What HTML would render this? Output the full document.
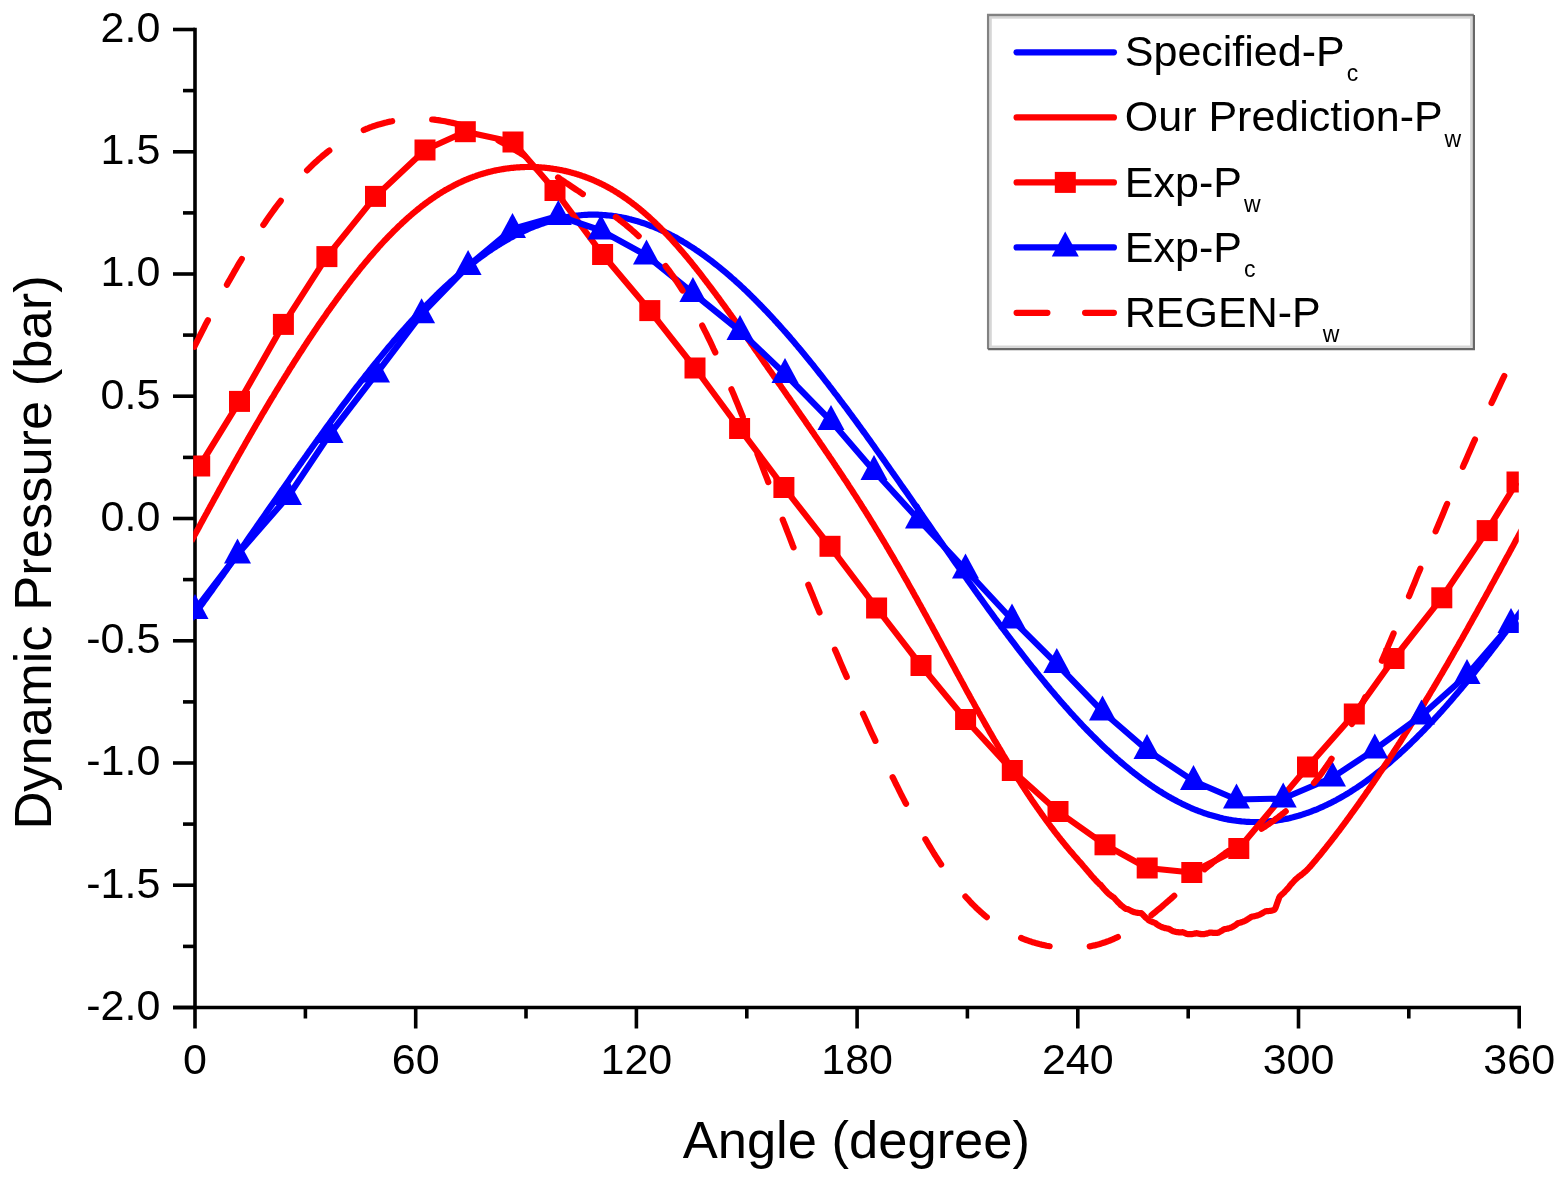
<!DOCTYPE html>
<html><head><meta charset="utf-8"><title>Dynamic Pressure vs Angle</title>
<style>html,body{margin:0;padding:0;background:#fff;overflow:hidden}svg{display:block}</style></head>
<body>
<svg width="1563" height="1181" viewBox="0 0 1563 1181">
<rect width="1563" height="1181" fill="#fff"/>
<defs><clipPath id="pc"><rect x="193.2" y="27.5" width="1325.6" height="980.0"/></clipPath></defs>
<g stroke="#000" stroke-width="3.6" fill="none" stroke-linecap="butt">
<path d="M195.0,27.7 L195.0,1007.5 M173.0,1007.5 L1521.0,1007.5"/>
<path d="M173.0,1007.5 L195.0,1007.5"/>
<path d="M183.0,946.4 L195.0,946.4"/>
<path d="M173.0,885.2 L195.0,885.2"/>
<path d="M183.0,824.1 L195.0,824.1"/>
<path d="M173.0,763.0 L195.0,763.0"/>
<path d="M183.0,701.9 L195.0,701.9"/>
<path d="M173.0,640.8 L195.0,640.8"/>
<path d="M183.0,579.6 L195.0,579.6"/>
<path d="M173.0,518.5 L195.0,518.5"/>
<path d="M183.0,457.4 L195.0,457.4"/>
<path d="M173.0,396.2 L195.0,396.2"/>
<path d="M183.0,335.1 L195.0,335.1"/>
<path d="M173.0,274.0 L195.0,274.0"/>
<path d="M183.0,212.9 L195.0,212.9"/>
<path d="M173.0,151.8 L195.0,151.8"/>
<path d="M183.0,90.6 L195.0,90.6"/>
<path d="M173.0,29.5 L195.0,29.5"/>
<path d="M195.0,1007.5 L195.0,1028.5"/>
<path d="M305.4,1007.5 L305.4,1018.5"/>
<path d="M415.7,1007.5 L415.7,1028.5"/>
<path d="M526.0,1007.5 L526.0,1018.5"/>
<path d="M636.4,1007.5 L636.4,1028.5"/>
<path d="M746.8,1007.5 L746.8,1018.5"/>
<path d="M857.1,1007.5 L857.1,1028.5"/>
<path d="M967.4,1007.5 L967.4,1018.5"/>
<path d="M1077.8,1007.5 L1077.8,1028.5"/>
<path d="M1188.2,1007.5 L1188.2,1018.5"/>
<path d="M1298.5,1007.5 L1298.5,1028.5"/>
<path d="M1408.8,1007.5 L1408.8,1018.5"/>
<path d="M1519.2,1007.5 L1519.2,1028.5"/>
</g>
<g clip-path="url(#pc)" fill="none" stroke-linejoin="round">
<path d="M191.3,618.8 L193.2,616.3 L195.0,613.8 L196.8,611.3 L198.7,608.8 L200.5,606.2 L202.4,603.7 L204.2,601.1 L206.0,598.6 L207.9,596.0 L209.7,593.5 L211.6,590.9 L213.4,588.3 L215.2,585.7 L217.1,583.2 L218.9,580.6 L220.7,578.0 L222.6,575.4 L224.4,572.8 L226.3,570.1 L228.1,567.5 L229.9,564.9 L231.8,562.3 L233.6,559.7 L235.5,557.0 L237.3,554.4 L239.1,551.8 L241.0,549.1 L242.8,546.5 L244.7,543.9 L246.5,541.2 L248.3,538.6 L250.2,535.9 L252.0,533.3 L253.9,530.6 L255.7,528.0 L257.5,525.3 L259.4,522.7 L261.2,520.0 L263.0,517.4 L264.9,514.7 L266.7,512.1 L268.6,509.4 L270.4,506.8 L272.2,504.2 L274.1,501.5 L275.9,498.9 L277.8,496.2 L279.6,493.6 L281.4,490.9 L283.3,488.3 L285.1,485.7 L287.0,483.0 L288.8,480.4 L290.6,477.8 L292.5,475.1 L294.3,472.5 L296.2,469.9 L298.0,467.3 L299.8,464.7 L301.7,462.1 L303.5,459.5 L305.4,456.9 L307.2,454.3 L309.0,451.7 L310.9,449.1 L312.7,446.5 L314.5,444.0 L316.4,441.4 L318.2,438.8 L320.1,436.3 L321.9,433.7 L323.7,431.2 L325.6,428.6 L327.4,426.1 L329.3,423.6 L331.1,421.1 L332.9,418.6 L334.8,416.1 L336.6,413.6 L338.5,411.1 L340.3,408.6 L342.1,406.2 L344.0,403.7 L345.8,401.3 L347.7,398.8 L349.5,396.4 L351.3,394.0 L353.2,391.5 L355.0,389.1 L356.8,386.7 L358.7,384.4 L360.5,382.0 L362.4,379.6 L364.2,377.3 L366.0,374.9 L367.9,372.6 L369.7,370.3 L371.6,368.0 L373.4,365.7 L375.2,363.4 L377.1,361.1 L378.9,358.9 L380.8,356.6 L382.6,354.4 L384.4,352.2 L386.3,349.9 L388.1,347.7 L390.0,345.6 L391.8,343.4 L393.6,341.2 L395.5,339.1 L397.3,336.9 L399.1,334.8 L401.0,332.7 L402.8,330.6 L404.7,328.6 L406.5,326.5 L408.3,324.4 L410.2,322.4 L412.0,320.4 L413.9,318.4 L415.7,316.4 L417.5,314.4 L419.4,312.5 L421.2,310.5 L423.1,308.6 L424.9,306.7 L426.7,304.8 L428.6,302.9 L430.4,301.1 L432.3,299.2 L434.1,297.4 L435.9,295.6 L437.8,293.8 L439.6,292.0 L441.4,290.3 L443.3,288.5 L445.1,286.8 L447.0,285.1 L448.8,283.4 L450.6,281.7 L452.5,280.1 L454.3,278.5 L456.2,276.8 L458.0,275.2 L459.8,273.7 L461.7,272.1 L463.5,270.6 L465.4,269.0 L467.2,267.5 L469.0,266.0 L470.9,264.6 L472.7,263.1 L474.6,261.7 L476.4,260.3 L478.2,258.9 L480.1,257.5 L481.9,256.2 L483.7,254.9 L485.6,253.6 L487.4,252.3 L489.3,251.0 L491.1,249.8 L492.9,248.5 L494.8,247.3 L496.6,246.1 L498.5,245.0 L500.3,243.8 L502.1,242.7 L504.0,241.6 L505.8,240.5 L507.7,239.5 L509.5,238.4 L511.3,237.4 L513.2,236.4 L515.0,235.4 L516.9,234.5 L518.7,233.6 L520.5,232.6 L522.4,231.8 L524.2,230.9 L526.0,230.1 L527.9,229.2 L529.7,228.4 L531.6,227.7 L533.4,226.9 L535.2,226.2 L537.1,225.5 L538.9,224.8 L540.8,224.1 L542.6,223.5 L544.4,222.8 L546.3,222.2 L548.1,221.7 L550.0,221.1 L551.8,220.6 L553.6,220.1 L555.5,219.6 L557.3,219.1 L559.2,218.7 L561.0,218.3 L562.8,217.9 L564.7,217.5 L566.5,217.1 L568.4,216.8 L570.2,216.5 L572.0,216.2 L573.9,216.0 L575.7,215.7 L577.5,215.5 L579.4,215.3 L581.2,215.2 L583.1,215.0 L584.9,214.9 L586.7,214.8 L588.6,214.7 L590.4,214.7 L592.3,214.7 L594.1,214.7 L595.9,214.7 L597.8,214.7 L599.6,214.8 L601.5,214.9 L603.3,215.0 L605.1,215.1 L607.0,215.3 L608.8,215.5 L610.7,215.7 L612.5,215.9 L614.3,216.2 L616.2,216.4 L618.0,216.7 L619.8,217.0 L621.7,217.4 L623.5,217.7 L625.4,218.1 L627.2,218.5 L629.0,219.0 L630.9,219.4 L632.7,219.9 L634.6,220.4 L636.4,220.9 L638.2,221.5 L640.1,222.1 L641.9,222.7 L643.8,223.3 L645.6,223.9 L647.4,224.6 L649.3,225.3 L651.1,226.0 L653.0,226.7 L654.8,227.4 L656.6,228.2 L658.5,229.0 L660.3,229.8 L662.1,230.7 L664.0,231.5 L665.8,232.4 L667.7,233.3 L669.5,234.2 L671.3,235.2 L673.2,236.1 L675.0,237.1 L676.9,238.1 L678.7,239.2 L680.5,240.2 L682.4,241.3 L684.2,242.4 L686.1,243.5 L687.9,244.7 L689.7,245.8 L691.6,247.0 L693.4,248.2 L695.3,249.4 L697.1,250.7 L698.9,251.9 L700.8,253.2 L702.6,254.5 L704.4,255.8 L706.3,257.2 L708.1,258.5 L710.0,259.9 L711.8,261.3 L713.6,262.7 L715.5,264.2 L717.3,265.6 L719.2,267.1 L721.0,268.6 L722.8,270.1 L724.7,271.7 L726.5,273.2 L728.4,274.8 L730.2,276.4 L732.0,278.0 L733.9,279.6 L735.7,281.3 L737.6,282.9 L739.4,284.6 L741.2,286.3 L743.1,288.0 L744.9,289.8 L746.8,291.5 L748.6,293.3 L750.4,295.1 L752.3,296.9 L754.1,298.7 L755.9,300.6 L757.8,302.4 L759.6,304.3 L761.5,306.2 L763.3,308.1 L765.1,310.0 L767.0,311.9 L768.8,313.9 L770.7,315.9 L772.5,317.8 L774.3,319.8 L776.2,321.8 L778.0,323.9 L779.9,325.9 L781.7,328.0 L783.5,330.0 L785.4,332.1 L787.2,334.2 L789.1,336.3 L790.9,338.5 L792.7,340.6 L794.6,342.8 L796.4,344.9 L798.2,347.1 L800.1,349.3 L801.9,351.5 L803.8,353.8 L805.6,356.0 L807.4,358.2 L809.3,360.5 L811.1,362.8 L813.0,365.0 L814.8,367.3 L816.6,369.6 L818.5,372.0 L820.3,374.3 L822.2,376.6 L824.0,379.0 L825.8,381.3 L827.7,383.7 L829.5,386.1 L831.4,388.5 L833.2,390.9 L835.0,393.3 L836.9,395.7 L838.7,398.1 L840.5,400.6 L842.4,403.0 L844.2,405.5 L846.1,407.9 L847.9,410.4 L849.7,412.9 L851.6,415.4 L853.4,417.9 L855.3,420.4 L857.1,422.9 L858.9,425.4 L860.8,427.9 L862.6,430.5 L864.5,433.0 L866.3,435.6 L868.1,438.1 L870.0,440.7 L871.8,443.2 L873.7,445.8 L875.5,448.4 L877.3,451.0 L879.2,453.6 L881.0,456.1 L882.8,458.7 L884.7,461.3 L886.5,463.9 L888.4,466.6 L890.2,469.2 L892.0,471.8 L893.9,474.4 L895.7,477.0 L897.6,479.7 L899.4,482.3 L901.2,484.9 L903.1,487.6 L904.9,490.2 L906.8,492.8 L908.6,495.5 L910.4,498.1 L912.3,500.8 L914.1,503.4 L916.0,506.1 L917.8,508.7 L919.6,511.4 L921.5,514.0 L923.3,516.7 L925.1,519.3 L927.0,522.0 L928.8,524.6 L930.7,527.3 L932.5,529.9 L934.3,532.6 L936.2,535.2 L938.0,537.8 L939.9,540.5 L941.7,543.1 L943.5,545.8 L945.4,548.4 L947.2,551.0 L949.1,553.7 L950.9,556.3 L952.7,558.9 L954.6,561.6 L956.4,564.2 L958.3,566.8 L960.1,569.4 L961.9,572.0 L963.8,574.6 L965.6,577.2 L967.4,579.8 L969.3,582.4 L971.1,585.0 L973.0,587.6 L974.8,590.2 L976.6,592.7 L978.5,595.3 L980.3,597.9 L982.2,600.4 L984.0,603.0 L985.8,605.5 L987.7,608.1 L989.5,610.6 L991.4,613.1 L993.2,615.6 L995.0,618.1 L996.9,620.6 L998.7,623.1 L1000.6,625.6 L1002.4,628.1 L1004.2,630.5 L1006.1,633.0 L1007.9,635.5 L1009.8,637.9 L1011.6,640.3 L1013.4,642.7 L1015.3,645.2 L1017.1,647.6 L1018.9,650.0 L1020.8,652.3 L1022.6,654.7 L1024.5,657.1 L1026.3,659.4 L1028.1,661.8 L1030.0,664.1 L1031.8,666.4 L1033.7,668.7 L1035.5,671.0 L1037.3,673.3 L1039.2,675.6 L1041.0,677.8 L1042.9,680.1 L1044.7,682.3 L1046.5,684.6 L1048.4,686.8 L1050.2,689.0 L1052.1,691.2 L1053.9,693.3 L1055.7,695.5 L1057.6,697.6 L1059.4,699.8 L1061.2,701.9 L1063.1,704.0 L1064.9,706.1 L1066.8,708.2 L1068.6,710.2 L1070.4,712.3 L1072.3,714.3 L1074.1,716.3 L1076.0,718.3 L1077.8,720.3 L1079.6,722.3 L1081.5,724.2 L1083.3,726.2 L1085.2,728.1 L1087.0,730.0 L1088.8,731.9 L1090.7,733.8 L1092.5,735.6 L1094.4,737.5 L1096.2,739.3 L1098.0,741.1 L1099.9,742.9 L1101.7,744.7 L1103.5,746.4 L1105.4,748.2 L1107.2,749.9 L1109.1,751.6 L1110.9,753.3 L1112.7,755.0 L1114.6,756.6 L1116.4,758.3 L1118.3,759.9 L1120.1,761.5 L1121.9,763.0 L1123.8,764.6 L1125.6,766.1 L1127.5,767.7 L1129.3,769.2 L1131.1,770.7 L1133.0,772.1 L1134.8,773.6 L1136.7,775.0 L1138.5,776.4 L1140.3,777.8 L1142.2,779.2 L1144.0,780.5 L1145.8,781.8 L1147.7,783.1 L1149.5,784.4 L1151.4,785.7 L1153.2,786.9 L1155.0,788.2 L1156.9,789.4 L1158.7,790.6 L1160.6,791.7 L1162.4,792.9 L1164.2,794.0 L1166.1,795.1 L1167.9,796.2 L1169.8,797.2 L1171.6,798.3 L1173.4,799.3 L1175.3,800.3 L1177.1,801.3 L1179.0,802.2 L1180.8,803.1 L1182.6,804.1 L1184.5,804.9 L1186.3,805.8 L1188.2,806.7 L1190.0,807.5 L1191.8,808.3 L1193.7,809.1 L1195.5,809.8 L1197.3,810.5 L1199.2,811.3 L1201.0,811.9 L1202.9,812.6 L1204.7,813.3 L1206.5,813.9 L1208.4,814.5 L1210.2,815.1 L1212.1,815.6 L1213.9,816.1 L1215.7,816.6 L1217.6,817.1 L1219.4,817.6 L1221.3,818.0 L1223.1,818.5 L1224.9,818.9 L1226.8,819.2 L1228.6,819.6 L1230.5,819.9 L1232.3,820.2 L1234.1,820.5 L1236.0,820.7 L1237.8,821.0 L1239.6,821.2 L1241.5,821.4 L1243.3,821.5 L1245.2,821.7 L1247.0,821.8 L1248.8,821.9 L1250.7,822.0 L1252.5,822.0 L1254.4,822.0 L1256.2,822.0 L1258.0,822.0 L1259.9,822.0 L1261.7,821.9 L1263.6,821.8 L1265.4,821.7 L1267.2,821.6 L1269.1,821.4 L1270.9,821.2 L1272.8,821.0 L1274.6,820.8 L1276.4,820.6 L1278.3,820.3 L1280.1,820.0 L1281.9,819.7 L1283.8,819.3 L1285.6,819.0 L1287.5,818.6 L1289.3,818.2 L1291.1,817.7 L1293.0,817.3 L1294.8,816.8 L1296.7,816.3 L1298.5,815.8 L1300.3,815.2 L1302.2,814.6 L1304.0,814.0 L1305.9,813.4 L1307.7,812.8 L1309.5,812.1 L1311.4,811.5 L1313.2,810.7 L1315.1,810.0 L1316.9,809.3 L1318.7,808.5 L1320.6,807.7 L1322.4,806.9 L1324.2,806.0 L1326.1,805.2 L1327.9,804.3 L1329.8,803.4 L1331.6,802.5 L1333.4,801.5 L1335.3,800.6 L1337.1,799.6 L1339.0,798.6 L1340.8,797.5 L1342.6,796.5 L1344.5,795.4 L1346.3,794.3 L1348.2,793.2 L1350.0,792.1 L1351.8,790.9 L1353.7,789.7 L1355.5,788.5 L1357.4,787.3 L1359.2,786.0 L1361.0,784.8 L1362.9,783.5 L1364.7,782.2 L1366.5,780.9 L1368.4,779.5 L1370.2,778.2 L1372.1,776.8 L1373.9,775.4 L1375.7,774.0 L1377.6,772.5 L1379.4,771.1 L1381.3,769.6 L1383.1,768.1 L1384.9,766.6 L1386.8,765.0 L1388.6,763.5 L1390.5,761.9 L1392.3,760.3 L1394.1,758.7 L1396.0,757.1 L1397.8,755.4 L1399.7,753.8 L1401.5,752.1 L1403.3,750.4 L1405.2,748.7 L1407.0,746.9 L1408.8,745.2 L1410.7,743.4 L1412.5,741.6 L1414.4,739.8 L1416.2,738.0 L1418.0,736.1 L1419.9,734.3 L1421.7,732.4 L1423.6,730.5 L1425.4,728.6 L1427.2,726.7 L1429.1,724.8 L1430.9,722.8 L1432.8,720.9 L1434.6,718.9 L1436.4,716.9 L1438.3,714.9 L1440.1,712.8 L1442.0,710.8 L1443.8,708.7 L1445.6,706.7 L1447.5,704.6 L1449.3,702.5 L1451.2,700.4 L1453.0,698.2 L1454.8,696.1 L1456.7,693.9 L1458.5,691.8 L1460.3,689.6 L1462.2,687.4 L1464.0,685.2 L1465.9,683.0 L1467.7,680.7 L1469.5,678.5 L1471.4,676.2 L1473.2,673.9 L1475.1,671.7 L1476.9,669.4 L1478.7,667.1 L1480.6,664.8 L1482.4,662.4 L1484.3,660.1 L1486.1,657.7 L1487.9,655.4 L1489.8,653.0 L1491.6,650.6 L1493.5,648.2 L1495.3,645.8 L1497.1,643.4 L1499.0,641.0 L1500.8,638.6 L1502.6,636.1 L1504.5,633.7 L1506.3,631.2 L1508.2,628.8 L1510.0,626.3 L1511.8,623.8 L1513.7,621.3 L1515.5,618.8 L1517.4,616.3 L1519.2,613.8 L1521.0,611.3 L1522.9,608.8" stroke="#0000ff" stroke-width="6.2"/>
<path d="M191.3,541.2 L192.2,539.5 L193.2,537.8 L194.1,536.1 L195.0,534.4 L195.9,532.8 L196.8,531.1 L197.8,529.4 L198.7,527.7 L199.6,526.0 L200.5,524.3 L201.4,522.6 L202.4,520.9 L203.3,519.2 L204.2,517.6 L205.1,515.9 L206.0,514.2 L207.0,512.5 L207.9,510.8 L208.8,509.1 L209.7,507.5 L210.6,505.8 L211.6,504.1 L212.5,502.4 L213.4,500.7 L214.3,499.1 L215.2,497.4 L216.2,495.7 L217.1,494.1 L218.0,492.4 L218.9,490.7 L219.8,489.0 L220.7,487.4 L221.7,485.7 L222.6,484.1 L223.5,482.4 L224.4,480.7 L225.3,479.1 L226.3,477.4 L227.2,475.8 L228.1,474.1 L229.0,472.5 L229.9,470.8 L230.9,469.2 L231.8,467.5 L232.7,465.9 L233.6,464.2 L234.5,462.6 L235.5,461.0 L236.4,459.3 L237.3,457.7 L238.2,456.1 L239.1,454.5 L240.1,452.8 L241.0,451.2 L241.9,449.6 L242.8,448.0 L243.7,446.4 L244.7,444.7 L245.6,443.1 L246.5,441.5 L247.4,439.9 L248.3,438.3 L249.3,436.7 L250.2,435.1 L251.1,433.5 L252.0,431.9 L252.9,430.3 L253.9,428.7 L254.8,427.2 L255.7,425.6 L256.6,424.0 L257.5,422.4 L258.5,420.9 L259.4,419.3 L260.3,417.7 L261.2,416.2 L262.1,414.6 L263.0,413.0 L264.0,411.5 L264.9,409.9 L265.8,408.4 L266.7,406.8 L267.6,405.3 L268.6,403.7 L269.5,402.2 L270.4,400.7 L271.3,399.1 L272.2,397.6 L273.2,396.1 L274.1,394.6 L275.0,393.0 L275.9,391.5 L276.8,390.0 L277.8,388.5 L278.7,387.0 L279.6,385.5 L280.5,384.0 L281.4,382.5 L282.4,381.0 L283.3,379.5 L284.2,378.0 L285.1,376.6 L286.0,375.1 L287.0,373.6 L287.9,372.1 L288.8,370.7 L289.7,369.2 L290.6,367.7 L291.6,366.3 L292.5,364.8 L293.4,363.4 L294.3,361.9 L295.2,360.5 L296.2,359.0 L297.1,357.6 L298.0,356.2 L298.9,354.7 L299.8,353.3 L300.8,351.9 L301.7,350.5 L302.6,349.1 L303.5,347.6 L304.4,346.2 L305.4,344.8 L306.3,343.4 L307.2,342.0 L308.1,340.6 L309.0,339.3 L309.9,337.9 L310.9,336.5 L311.8,335.1 L312.7,333.7 L313.6,332.4 L314.5,331.0 L315.5,329.6 L316.4,328.3 L317.3,326.9 L318.2,325.6 L319.1,324.2 L320.1,322.9 L321.0,321.6 L321.9,320.2 L322.8,318.9 L323.7,317.6 L324.7,316.3 L325.6,315.0 L326.5,313.6 L327.4,312.3 L328.3,311.0 L329.3,309.7 L330.2,308.4 L331.1,307.1 L332.0,305.9 L332.9,304.6 L333.9,303.3 L334.8,302.0 L335.7,300.8 L336.6,299.5 L337.5,298.2 L338.5,297.0 L339.4,295.7 L340.3,294.5 L341.2,293.3 L342.1,292.0 L343.1,290.8 L344.0,289.6 L344.9,288.4 L345.8,287.1 L346.7,285.9 L347.7,284.7 L348.6,283.5 L349.5,282.3 L350.4,281.1 L351.3,279.9 L352.2,278.8 L353.2,277.6 L354.1,276.4 L355.0,275.3 L355.9,274.1 L356.8,272.9 L357.8,271.8 L358.7,270.6 L359.6,269.5 L360.5,268.4 L361.4,267.2 L362.4,266.1 L363.3,265.0 L364.2,263.9 L365.1,262.8 L366.0,261.7 L367.0,260.6 L367.9,259.5 L368.8,258.4 L369.7,257.3 L370.6,256.2 L371.6,255.2 L372.5,254.1 L373.4,253.1 L374.3,252.0 L375.2,251.0 L376.2,249.9 L377.1,248.9 L378.0,247.9 L378.9,246.8 L379.8,245.8 L380.8,244.8 L381.7,243.8 L382.6,242.8 L383.5,241.8 L384.4,240.8 L385.4,239.8 L386.3,238.9 L387.2,237.9 L388.1,236.9 L389.0,236.0 L390.0,235.0 L390.9,234.1 L391.8,233.2 L392.7,232.2 L393.6,231.3 L394.5,230.4 L395.5,229.5 L396.4,228.6 L397.3,227.7 L398.2,226.8 L399.1,225.9 L400.1,225.0 L401.0,224.2 L401.9,223.3 L402.8,222.4 L403.7,221.6 L404.7,220.7 L405.6,219.9 L406.5,219.1 L407.4,218.2 L408.3,217.4 L409.3,216.6 L410.2,215.8 L411.1,215.0 L412.0,214.2 L412.9,213.4 L413.9,212.6 L414.8,211.9 L415.7,211.1 L416.6,210.4 L417.5,209.6 L418.5,208.9 L419.4,208.1 L420.3,207.4 L421.2,206.7 L422.1,205.9 L423.1,205.2 L424.0,204.5 L424.9,203.8 L425.8,203.2 L426.7,202.5 L427.7,201.8 L428.6,201.1 L429.5,200.5 L430.4,199.8 L431.3,199.2 L432.3,198.5 L433.2,197.9 L434.1,197.3 L435.0,196.6 L435.9,196.0 L436.9,195.4 L437.8,194.8 L438.7,194.2 L439.6,193.6 L440.5,193.1 L441.4,192.5 L442.4,191.9 L443.3,191.4 L444.2,190.8 L445.1,190.3 L446.0,189.7 L447.0,189.2 L447.9,188.7 L448.8,188.2 L449.7,187.7 L450.6,187.2 L451.6,186.7 L452.5,186.2 L453.4,185.7 L454.3,185.2 L455.2,184.7 L456.2,184.3 L457.1,183.8 L458.0,183.4 L458.9,182.9 L459.8,182.5 L460.8,182.1 L461.7,181.7 L462.6,181.2 L463.5,180.8 L464.4,180.4 L465.4,180.0 L466.3,179.6 L467.2,179.3 L468.1,178.9 L469.0,178.5 L470.0,178.1 L470.9,177.8 L471.8,177.4 L472.7,177.1 L473.6,176.7 L474.6,176.4 L475.5,176.1 L476.4,175.8 L477.3,175.4 L478.2,175.1 L479.2,174.8 L480.1,174.5 L481.0,174.3 L481.9,174.0 L482.8,173.7 L483.7,173.4 L484.7,173.2 L485.6,172.9 L486.5,172.6 L487.4,172.4 L488.3,172.1 L489.3,171.9 L490.2,171.7 L491.1,171.5 L492.0,171.2 L492.9,171.0 L493.9,170.8 L494.8,170.6 L495.7,170.4 L496.6,170.2 L497.5,170.0 L498.5,169.9 L499.4,169.7 L500.3,169.5 L501.2,169.4 L502.1,169.2 L503.1,169.1 L504.0,168.9 L504.9,168.8 L505.8,168.6 L506.7,168.5 L507.7,168.4 L508.6,168.3 L509.5,168.2 L510.4,168.0 L511.3,167.9 L512.3,167.8 L513.2,167.8 L514.1,167.7 L515.0,167.6 L515.9,167.5 L516.9,167.4 L517.8,167.4 L518.7,167.3 L519.6,167.3 L520.5,167.2 L521.5,167.2 L522.4,167.1 L523.3,167.1 L524.2,167.1 L525.1,167.0 L526.0,167.0 L527.0,167.0 L527.9,167.0 L528.8,167.0 L529.7,167.0 L530.6,167.0 L531.6,167.0 L532.5,167.0 L533.4,167.1 L534.3,167.1 L535.2,167.1 L536.2,167.2 L537.1,167.2 L538.0,167.2 L538.9,167.3 L539.8,167.4 L540.8,167.4 L541.7,167.5 L542.6,167.6 L543.5,167.6 L544.4,167.7 L545.4,167.8 L546.3,167.9 L547.2,168.0 L548.1,168.1 L549.0,168.2 L550.0,168.3 L550.9,168.5 L551.8,168.6 L552.7,168.7 L553.6,168.9 L554.6,169.0 L555.5,169.1 L556.4,169.3 L557.3,169.5 L558.2,169.6 L559.2,169.8 L560.1,170.0 L561.0,170.1 L561.9,170.3 L562.8,170.5 L563.8,170.7 L564.7,170.9 L565.6,171.1 L566.5,171.3 L567.4,171.6 L568.4,171.8 L569.3,172.0 L570.2,172.3 L571.1,172.5 L572.0,172.7 L572.9,173.0 L573.9,173.3 L574.8,173.5 L575.7,173.8 L576.6,174.1 L577.5,174.4 L578.5,174.6 L579.4,174.9 L580.3,175.2 L581.2,175.5 L582.1,175.9 L583.1,176.2 L584.0,176.5 L584.9,176.8 L585.8,177.2 L586.7,177.5 L587.7,177.9 L588.6,178.2 L589.5,178.6 L590.4,179.0 L591.3,179.3 L592.3,179.7 L593.2,180.1 L594.1,180.5 L595.0,180.9 L595.9,181.3 L596.9,181.7 L597.8,182.2 L598.7,182.6 L599.6,183.0 L600.5,183.5 L601.5,183.9 L602.4,184.4 L603.3,184.8 L604.2,185.3 L605.1,185.8 L606.1,186.3 L607.0,186.8 L607.9,187.3 L608.8,187.8 L609.7,188.3 L610.7,188.8 L611.6,189.3 L612.5,189.9 L613.4,190.4 L614.3,190.9 L615.2,191.5 L616.2,192.1 L617.1,192.6 L618.0,193.2 L618.9,193.8 L619.8,194.4 L620.8,195.0 L621.7,195.6 L622.6,196.2 L623.5,196.8 L624.4,197.5 L625.4,198.1 L626.3,198.7 L627.2,199.4 L628.1,200.1 L629.0,200.7 L630.0,201.4 L630.9,202.1 L631.8,202.8 L632.7,203.5 L633.6,204.2 L634.6,204.9 L635.5,205.6 L636.4,206.3 L637.3,207.1 L638.2,207.8 L639.2,208.5 L640.1,209.3 L641.0,210.1 L641.9,210.8 L642.8,211.6 L643.8,212.4 L644.7,213.2 L645.6,214.0 L646.5,214.8 L647.4,215.6 L648.4,216.4 L649.3,217.3 L650.2,218.1 L651.1,219.0 L652.0,219.8 L653.0,220.7 L653.9,221.5 L654.8,222.4 L655.7,223.3 L656.6,224.2 L657.6,225.1 L658.5,226.0 L659.4,226.9 L660.3,227.8 L661.2,228.7 L662.1,229.7 L663.1,230.6 L664.0,231.5 L664.9,232.5 L665.8,233.5 L666.7,234.4 L667.7,235.4 L668.6,236.4 L669.5,237.4 L670.4,238.3 L671.3,239.3 L672.3,240.4 L673.2,241.4 L674.1,242.4 L675.0,243.4 L675.9,244.4 L676.9,245.5 L677.8,246.5 L678.7,247.6 L679.6,248.6 L680.5,249.7 L681.5,250.8 L682.4,251.8 L683.3,252.9 L684.2,254.0 L685.1,255.1 L686.1,256.2 L687.0,257.3 L687.9,258.4 L688.8,259.5 L689.7,260.6 L690.7,261.7 L691.6,262.9 L692.5,264.0 L693.4,265.1 L694.3,266.3 L695.3,267.4 L696.2,268.6 L697.1,269.8 L698.0,270.9 L698.9,272.1 L699.9,273.3 L700.8,274.4 L701.7,275.6 L702.6,276.8 L703.5,278.0 L704.4,279.2 L705.4,280.4 L706.3,281.6 L707.2,282.8 L708.1,284.0 L709.0,285.2 L710.0,286.4 L710.9,287.7 L711.8,288.9 L712.7,290.1 L713.6,291.3 L714.6,292.6 L715.5,293.8 L716.4,295.1 L717.3,296.3 L718.2,297.6 L719.2,298.8 L720.1,300.1 L721.0,301.3 L721.9,302.6 L722.8,303.8 L723.8,305.1 L724.7,306.4 L725.6,307.6 L726.5,308.9 L727.4,310.2 L728.4,311.5 L729.3,312.8 L730.2,314.0 L731.1,315.3 L732.0,316.6 L733.0,317.9 L733.9,319.2 L734.8,320.5 L735.7,321.8 L736.6,323.1 L737.6,324.4 L738.5,325.7 L739.4,327.0 L740.3,328.3 L741.2,329.6 L742.2,330.9 L743.1,332.2 L744.0,333.5 L744.9,334.8 L745.8,336.1 L746.8,337.4 L747.7,338.7 L748.6,340.0 L749.5,341.3 L750.4,342.6 L751.3,343.9 L752.3,345.3 L753.2,346.6 L754.1,347.9 L755.0,349.2 L755.9,350.5 L756.9,351.8 L757.8,353.1 L758.7,354.5 L759.6,355.8 L760.5,357.1 L761.5,358.4 L762.4,359.7 L763.3,361.1 L764.2,362.4 L765.1,363.7 L766.1,365.0 L767.0,366.3 L767.9,367.7 L768.8,369.0 L769.7,370.3 L770.7,371.6 L771.6,372.9 L772.5,374.3 L773.4,375.6 L774.3,376.9 L775.3,378.2 L776.2,379.5 L777.1,380.9 L778.0,382.2 L778.9,383.5 L779.9,384.8 L780.8,386.1 L781.7,387.5 L782.6,388.8 L783.5,390.1 L784.5,391.4 L785.4,392.7 L786.3,394.1 L787.2,395.4 L788.1,396.7 L789.1,398.0 L790.0,399.3 L790.9,400.7 L791.8,402.0 L792.7,403.3 L793.6,404.6 L794.6,406.0 L795.5,407.3 L796.4,408.6 L797.3,409.9 L798.2,411.2 L799.2,412.6 L800.1,413.9 L801.0,415.2 L801.9,416.5 L802.8,417.9 L803.8,419.2 L804.7,420.5 L805.6,421.8 L806.5,423.2 L807.4,424.5 L808.4,425.8 L809.3,427.2 L810.2,428.5 L811.1,429.8 L812.0,431.2 L813.0,432.5 L813.9,433.8 L814.8,435.2 L815.7,436.5 L816.6,437.8 L817.6,439.2 L818.5,440.5 L819.4,441.8 L820.3,443.2 L821.2,444.5 L822.2,445.9 L823.1,447.2 L824.0,448.6 L824.9,449.9 L825.8,451.3 L826.8,452.6 L827.7,454.0 L828.6,455.3 L829.5,456.7 L830.4,458.0 L831.4,459.4 L832.3,460.8 L833.2,462.1 L834.1,463.5 L835.0,464.8 L835.9,466.2 L836.9,467.6 L837.8,469.0 L838.7,470.3 L839.6,471.7 L840.5,473.1 L841.5,474.5 L842.4,475.9 L843.3,477.3 L844.2,478.7 L845.1,480.0 L846.1,481.4 L847.0,482.8 L847.9,484.2 L848.8,485.7 L849.7,487.1 L850.7,488.5 L851.6,489.9 L852.5,491.3 L853.4,492.7 L854.3,494.1 L855.3,495.6 L856.2,497.0 L857.1,498.4 L858.0,499.9 L858.9,501.3 L859.9,502.7 L860.8,504.2 L861.7,505.6 L862.6,507.1 L863.5,508.5 L864.5,510.0 L865.4,511.5 L866.3,512.9 L867.2,514.4 L868.1,515.9 L869.1,517.3 L870.0,518.8 L870.9,520.3 L871.8,521.8 L872.7,523.3 L873.7,524.8 L874.6,526.3 L875.5,527.8 L876.4,529.3 L877.3,530.8 L878.3,532.3 L879.2,533.8 L880.1,535.3 L881.0,536.9 L881.9,538.4 L882.8,539.9 L883.8,541.5 L884.7,543.0 L885.6,544.5 L886.5,546.1 L887.4,547.6 L888.4,549.2 L889.3,550.8 L890.2,552.3 L891.1,553.9 L892.0,555.4 L893.0,557.0 L893.9,558.6 L894.8,560.2 L895.7,561.8 L896.6,563.3 L897.6,564.9 L898.5,566.5 L899.4,568.1 L900.3,569.7 L901.2,571.3 L902.2,572.9 L903.1,574.5 L904.0,576.2 L904.9,577.8 L905.8,579.4 L906.8,581.0 L907.7,582.6 L908.6,584.3 L909.5,585.9 L910.4,587.5 L911.4,589.2 L912.3,590.8 L913.2,592.5 L914.1,594.1 L915.0,595.8 L916.0,597.4 L916.9,599.1 L917.8,600.7 L918.7,602.4 L919.6,604.0 L920.6,605.7 L921.5,607.4 L922.4,609.0 L923.3,610.7 L924.2,612.4 L925.1,614.1 L926.1,615.7 L927.0,617.4 L927.9,619.1 L928.8,620.8 L929.7,622.5 L930.7,624.2 L931.6,625.8 L932.5,627.5 L933.4,629.2 L934.3,630.9 L935.3,632.6 L936.2,634.3 L937.1,636.0 L938.0,637.7 L938.9,639.4 L939.9,641.1 L940.8,642.8 L941.7,644.5 L942.6,646.2 L943.5,647.9 L944.5,649.6 L945.4,651.3 L946.3,653.0 L947.2,654.7 L948.1,656.4 L949.1,658.1 L950.0,659.8 L950.9,661.5 L951.8,663.2 L952.7,664.9 L953.7,666.6 L954.6,668.3 L955.5,670.0 L956.4,671.7 L957.3,673.4 L958.3,675.1 L959.2,676.8 L960.1,678.5 L961.0,680.1 L961.9,681.8 L962.9,683.5 L963.8,685.2 L964.7,686.9 L965.6,688.6 L966.5,690.3 L967.4,691.9 L968.4,693.6 L969.3,695.3 L970.2,697.0 L971.1,698.6 L972.0,700.3 L973.0,702.0 L973.9,703.6 L974.8,705.3 L975.7,706.9 L976.6,708.6 L977.6,710.2 L978.5,711.9 L979.4,713.5 L980.3,715.2 L981.2,716.8 L982.2,718.5 L983.1,720.1 L984.0,721.7 L984.9,723.3 L985.8,725.0 L986.8,726.6 L987.7,728.2 L988.6,729.8 L989.5,731.4 L990.4,733.0 L991.4,734.6 L992.3,736.2 L993.2,737.8 L994.1,739.4 L995.0,741.0 L996.0,742.5 L996.9,744.1 L997.8,745.7 L998.7,747.2 L999.6,748.8 L1000.6,750.3 L1001.5,751.9 L1002.4,753.4 L1003.3,755.0 L1004.2,756.5 L1005.2,758.0 L1006.1,759.5 L1007.0,761.1 L1007.9,762.6 L1008.8,764.1 L1009.8,765.6 L1010.7,767.1 L1011.6,768.6 L1012.5,770.0 L1013.4,771.5 L1014.3,773.0 L1015.3,774.5 L1016.2,775.9 L1017.1,777.4 L1018.0,778.8 L1018.9,780.3 L1019.9,781.7 L1020.8,783.2 L1021.7,784.6 L1022.6,786.0 L1023.5,787.4 L1024.5,788.8 L1025.4,790.2 L1026.3,791.6 L1027.2,793.0 L1028.1,794.4 L1029.1,795.8 L1030.0,797.2 L1030.9,798.5 L1031.8,799.9 L1032.7,801.2 L1033.7,802.6 L1034.6,803.9 L1035.5,805.3 L1036.4,806.6 L1037.3,807.9 L1038.3,809.2 L1039.2,810.5 L1040.1,811.8 L1041.0,813.1 L1041.9,814.4 L1042.9,815.7 L1043.8,817.0 L1044.7,818.2 L1045.6,819.5 L1046.5,820.8 L1047.5,822.0 L1048.4,823.3 L1049.3,824.5 L1050.2,825.7 L1051.1,827.0 L1052.1,828.2 L1053.0,829.4 L1053.9,830.6 L1054.8,831.8 L1055.7,833.0 L1056.6,834.2 L1057.6,835.3 L1058.5,836.5 L1059.4,837.7 L1060.3,838.8 L1061.2,840.0 L1062.2,841.1 L1063.1,842.3 L1064.0,843.4 L1064.9,844.5 L1065.8,845.7 L1066.8,846.8 L1067.7,847.9 L1068.6,849.0 L1069.5,850.1 L1070.4,851.2 L1071.4,852.2 L1072.3,853.3 L1073.2,854.4 L1074.1,855.5 L1075.0,856.5 L1076.0,857.6 L1076.9,858.6 L1077.8,859.6 L1078.7,860.7 L1079.6,861.7 L1080.6,862.7 L1081.5,863.8 L1082.4,864.9 L1083.3,866.0 L1084.2,867.0 L1085.2,868.1 L1086.1,869.2 L1087.0,870.3 L1087.9,871.4 L1088.8,872.4 L1089.8,873.5 L1090.7,874.6 L1091.6,875.8 L1092.5,876.8 L1093.4,877.8 L1094.4,878.8 L1095.3,879.9 L1096.2,880.8 L1097.1,881.7 L1098.0,882.6 L1099.0,883.6 L1099.9,884.5 L1100.8,885.0 L1101.7,886.2 L1102.6,887.3 L1103.5,888.4 L1104.5,889.5 L1105.4,890.5 L1106.3,891.4 L1107.2,892.4 L1108.1,893.3 L1109.1,894.1 L1110.0,894.9 L1110.9,895.6 L1111.8,896.2 L1112.7,896.9 L1113.7,897.5 L1114.6,898.4 L1115.5,899.5 L1116.4,900.5 L1117.3,901.5 L1118.3,902.5 L1119.2,903.4 L1120.1,904.3 L1121.0,905.2 L1121.9,905.9 L1122.9,906.7 L1123.8,907.4 L1124.7,908.1 L1125.6,908.7 L1126.5,909.0 L1127.5,909.0 L1128.4,909.5 L1129.3,909.9 L1130.2,910.4 L1131.1,910.9 L1132.1,911.3 L1133.0,911.7 L1133.9,912.0 L1134.8,912.3 L1135.7,912.5 L1136.7,912.7 L1137.6,912.8 L1138.5,913.0 L1139.4,913.0 L1140.3,913.1 L1141.3,913.1 L1142.2,914.0 L1143.1,914.9 L1144.0,915.9 L1144.9,916.8 L1145.8,917.7 L1146.8,918.5 L1147.7,919.3 L1148.6,920.1 L1149.5,920.7 L1150.4,921.1 L1151.4,921.5 L1152.3,921.9 L1153.2,922.3 L1154.1,922.6 L1155.0,922.9 L1156.0,923.6 L1156.9,924.4 L1157.8,925.0 L1158.7,925.5 L1159.6,926.0 L1160.6,926.5 L1161.5,926.9 L1162.4,927.3 L1163.3,927.6 L1164.2,927.9 L1165.2,928.1 L1166.1,928.3 L1167.0,928.5 L1167.9,928.7 L1168.8,928.8 L1169.8,929.3 L1170.7,929.9 L1171.6,930.5 L1172.5,930.9 L1173.4,931.3 L1174.4,931.5 L1175.3,931.8 L1176.2,932.0 L1177.1,932.1 L1178.0,932.2 L1179.0,932.3 L1179.9,932.3 L1180.8,932.3 L1181.7,932.3 L1182.6,932.2 L1183.6,932.5 L1184.5,932.9 L1185.4,933.3 L1186.3,933.7 L1187.2,934.0 L1188.2,934.2 L1189.1,934.2 L1190.0,934.2 L1190.9,934.2 L1191.8,934.1 L1192.7,934.0 L1193.7,933.8 L1194.6,933.6 L1195.5,933.4 L1196.4,933.2 L1197.3,933.3 L1198.3,933.6 L1199.2,933.8 L1200.1,933.9 L1201.0,934.1 L1201.9,934.2 L1202.9,934.2 L1203.8,934.2 L1204.7,934.0 L1205.6,933.8 L1206.5,933.6 L1207.5,933.4 L1208.4,933.1 L1209.3,932.8 L1210.2,932.5 L1211.1,932.5 L1212.1,932.7 L1213.0,932.8 L1213.9,932.9 L1214.8,932.9 L1215.7,932.9 L1216.7,932.9 L1217.6,932.8 L1218.5,932.6 L1219.4,932.1 L1220.3,931.6 L1221.3,931.1 L1222.2,930.5 L1223.1,929.9 L1224.0,929.3 L1224.9,929.1 L1225.9,929.0 L1226.8,928.8 L1227.7,928.6 L1228.6,928.4 L1229.5,928.1 L1230.5,927.8 L1231.4,927.4 L1232.3,927.0 L1233.2,926.5 L1234.1,926.0 L1235.0,925.4 L1236.0,924.7 L1236.9,924.0 L1237.8,923.3 L1238.7,923.0 L1239.6,922.8 L1240.6,922.5 L1241.5,922.2 L1242.4,921.9 L1243.3,921.6 L1244.2,921.2 L1245.2,920.7 L1246.1,920.2 L1247.0,919.7 L1247.9,919.1 L1248.8,918.5 L1249.8,917.9 L1250.7,917.3 L1251.6,916.7 L1252.5,916.5 L1253.4,916.4 L1254.4,916.2 L1255.3,916.0 L1256.2,915.8 L1257.1,915.5 L1258.0,915.2 L1259.0,914.9 L1259.9,914.5 L1260.8,914.0 L1261.7,913.5 L1262.6,913.0 L1263.6,912.4 L1264.5,911.9 L1265.4,911.4 L1266.3,911.2 L1267.2,911.2 L1268.2,911.1 L1269.1,911.0 L1270.0,910.9 L1270.9,910.8 L1271.8,910.6 L1272.8,910.3 L1273.7,910.0 L1274.6,909.6 L1275.5,908.0 L1276.4,905.4 L1277.3,902.8 L1278.3,900.2 L1279.2,897.5 L1280.1,896.0 L1281.0,895.2 L1281.9,894.4 L1282.9,893.5 L1283.8,892.7 L1284.7,891.8 L1285.6,890.8 L1286.5,889.8 L1287.5,888.8 L1288.4,887.7 L1289.3,886.6 L1290.2,885.2 L1291.1,884.2 L1292.1,883.2 L1293.0,882.2 L1293.9,881.2 L1294.8,880.2 L1295.7,879.3 L1296.7,878.5 L1297.6,877.7 L1298.5,876.9 L1299.4,876.2 L1300.3,875.6 L1301.3,874.9 L1302.2,874.1 L1303.1,873.4 L1304.0,872.6 L1304.9,871.8 L1305.9,871.0 L1306.8,870.1 L1307.7,869.2 L1308.6,868.2 L1309.5,867.2 L1310.5,866.2 L1311.4,865.1 L1312.3,864.1 L1313.2,863.0 L1314.1,861.9 L1315.1,860.8 L1316.0,859.7 L1316.9,858.6 L1317.8,857.5 L1318.7,856.4 L1319.7,855.3 L1320.6,854.2 L1321.5,853.1 L1322.4,851.9 L1323.3,850.8 L1324.2,849.7 L1325.2,848.5 L1326.1,847.4 L1327.0,846.2 L1327.9,845.0 L1328.8,843.9 L1329.8,842.7 L1330.7,841.5 L1331.6,840.4 L1332.5,839.2 L1333.4,838.0 L1334.4,836.8 L1335.3,835.6 L1336.2,834.4 L1337.1,833.2 L1338.0,832.0 L1339.0,830.8 L1339.9,829.6 L1340.8,828.3 L1341.7,827.1 L1342.6,825.9 L1343.6,824.6 L1344.5,823.4 L1345.4,822.2 L1346.3,820.9 L1347.2,819.7 L1348.2,818.4 L1349.1,817.1 L1350.0,815.9 L1350.9,814.6 L1351.8,813.3 L1352.8,812.1 L1353.7,810.8 L1354.6,809.5 L1355.5,808.2 L1356.4,806.9 L1357.4,805.6 L1358.3,804.4 L1359.2,803.1 L1360.1,801.8 L1361.0,800.4 L1362.0,799.1 L1362.9,797.8 L1363.8,796.5 L1364.7,795.2 L1365.6,793.9 L1366.5,792.5 L1367.5,791.2 L1368.4,789.9 L1369.3,788.5 L1370.2,787.2 L1371.1,785.9 L1372.1,784.5 L1373.0,783.2 L1373.9,781.8 L1374.8,780.5 L1375.7,779.1 L1376.7,777.7 L1377.6,776.4 L1378.5,775.0 L1379.4,773.6 L1380.3,772.3 L1381.3,770.9 L1382.2,769.5 L1383.1,768.1 L1384.0,766.7 L1384.9,765.3 L1385.9,763.9 L1386.8,762.6 L1387.7,761.2 L1388.6,759.8 L1389.5,758.3 L1390.5,756.9 L1391.4,755.5 L1392.3,754.1 L1393.2,752.7 L1394.1,751.3 L1395.1,749.9 L1396.0,748.4 L1396.9,747.0 L1397.8,745.6 L1398.7,744.1 L1399.7,742.7 L1400.6,741.3 L1401.5,739.8 L1402.4,738.4 L1403.3,736.9 L1404.3,735.5 L1405.2,734.0 L1406.1,732.5 L1407.0,731.1 L1407.9,729.6 L1408.8,728.2 L1409.8,726.7 L1410.7,725.2 L1411.6,723.7 L1412.5,722.3 L1413.4,720.8 L1414.4,719.3 L1415.3,717.8 L1416.2,716.3 L1417.1,714.8 L1418.0,713.3 L1419.0,711.8 L1419.9,710.3 L1420.8,708.8 L1421.7,707.3 L1422.6,705.8 L1423.6,704.3 L1424.5,702.8 L1425.4,701.2 L1426.3,699.7 L1427.2,698.2 L1428.2,696.7 L1429.1,695.1 L1430.0,693.6 L1430.9,692.0 L1431.8,690.5 L1432.8,689.0 L1433.7,687.4 L1434.6,685.9 L1435.5,684.3 L1436.4,682.8 L1437.4,681.2 L1438.3,679.6 L1439.2,678.1 L1440.1,676.5 L1441.0,675.0 L1442.0,673.4 L1442.9,671.8 L1443.8,670.2 L1444.7,668.7 L1445.6,667.1 L1446.6,665.5 L1447.5,663.9 L1448.4,662.3 L1449.3,660.7 L1450.2,659.1 L1451.2,657.5 L1452.1,655.9 L1453.0,654.3 L1453.9,652.7 L1454.8,651.1 L1455.7,649.5 L1456.7,647.9 L1457.6,646.3 L1458.5,644.7 L1459.4,643.0 L1460.3,641.4 L1461.3,639.8 L1462.2,638.2 L1463.1,636.5 L1464.0,634.9 L1464.9,633.3 L1465.9,631.6 L1466.8,630.0 L1467.7,628.4 L1468.6,626.7 L1469.5,625.1 L1470.5,623.4 L1471.4,621.8 L1472.3,620.1 L1473.2,618.5 L1474.1,616.8 L1475.1,615.2 L1476.0,613.5 L1476.9,611.9 L1477.8,610.2 L1478.7,608.6 L1479.7,606.9 L1480.6,605.2 L1481.5,603.6 L1482.4,601.9 L1483.3,600.2 L1484.3,598.6 L1485.2,596.9 L1486.1,595.2 L1487.0,593.5 L1487.9,591.9 L1488.9,590.2 L1489.8,588.5 L1490.7,586.8 L1491.6,585.1 L1492.5,583.5 L1493.5,581.8 L1494.4,580.1 L1495.3,578.4 L1496.2,576.7 L1497.1,575.0 L1498.0,573.4 L1499.0,571.7 L1499.9,570.0 L1500.8,568.3 L1501.7,566.6 L1502.6,564.9 L1503.6,563.2 L1504.5,561.5 L1505.4,559.8 L1506.3,558.1 L1507.2,556.5 L1508.2,554.8 L1509.1,553.1 L1510.0,551.4 L1510.9,549.7 L1511.8,548.0 L1512.8,546.3 L1513.7,544.6 L1514.6,542.9 L1515.5,541.2 L1516.4,539.5 L1517.4,537.8 L1518.3,536.1 L1519.2,534.4 L1520.1,532.8 L1521.0,531.1 L1522.0,529.4 L1522.9,527.7" stroke="#ff0000" stroke-width="6.2"/>
<path d="M199.7,466.0 L239.5,401.4 L283.4,324.4 L326.9,256.6 L375.5,196.4 L425.0,150.0 L465.3,131.7 L513.0,142.0 L555.0,190.5 L602.6,254.5 L649.8,310.6 L695.0,368.0 L739.6,428.5 L783.9,487.5 L830.0,546.3 L876.6,608.0 L921.0,665.5 L965.6,719.5 L1012.3,770.5 L1058.0,811.5 L1105.0,844.8 L1147.2,868.0 L1191.8,872.5 L1238.8,848.5 L1307.5,767.0 L1354.3,714.0 L1394.0,658.5 L1441.8,597.8 L1487.2,530.6 L1517.0,482.0" stroke="#ff0000" stroke-width="6.2"/>
<rect x="189.2" y="455.5" width="21" height="21" fill="#ff0000" stroke="none"/>
<rect x="229.0" y="390.9" width="21" height="21" fill="#ff0000" stroke="none"/>
<rect x="272.9" y="313.9" width="21" height="21" fill="#ff0000" stroke="none"/>
<rect x="316.4" y="246.1" width="21" height="21" fill="#ff0000" stroke="none"/>
<rect x="365.0" y="185.9" width="21" height="21" fill="#ff0000" stroke="none"/>
<rect x="414.5" y="139.5" width="21" height="21" fill="#ff0000" stroke="none"/>
<rect x="454.8" y="121.2" width="21" height="21" fill="#ff0000" stroke="none"/>
<rect x="502.5" y="131.5" width="21" height="21" fill="#ff0000" stroke="none"/>
<rect x="544.5" y="180.0" width="21" height="21" fill="#ff0000" stroke="none"/>
<rect x="592.1" y="244.0" width="21" height="21" fill="#ff0000" stroke="none"/>
<rect x="639.3" y="300.1" width="21" height="21" fill="#ff0000" stroke="none"/>
<rect x="684.5" y="357.5" width="21" height="21" fill="#ff0000" stroke="none"/>
<rect x="729.1" y="418.0" width="21" height="21" fill="#ff0000" stroke="none"/>
<rect x="773.4" y="477.0" width="21" height="21" fill="#ff0000" stroke="none"/>
<rect x="819.5" y="535.8" width="21" height="21" fill="#ff0000" stroke="none"/>
<rect x="866.1" y="597.5" width="21" height="21" fill="#ff0000" stroke="none"/>
<rect x="910.5" y="655.0" width="21" height="21" fill="#ff0000" stroke="none"/>
<rect x="955.1" y="709.0" width="21" height="21" fill="#ff0000" stroke="none"/>
<rect x="1001.8" y="760.0" width="21" height="21" fill="#ff0000" stroke="none"/>
<rect x="1047.5" y="801.0" width="21" height="21" fill="#ff0000" stroke="none"/>
<rect x="1094.5" y="834.3" width="21" height="21" fill="#ff0000" stroke="none"/>
<rect x="1136.7" y="857.5" width="21" height="21" fill="#ff0000" stroke="none"/>
<rect x="1181.3" y="862.0" width="21" height="21" fill="#ff0000" stroke="none"/>
<rect x="1228.3" y="838.0" width="21" height="21" fill="#ff0000" stroke="none"/>
<rect x="1297.0" y="756.5" width="21" height="21" fill="#ff0000" stroke="none"/>
<rect x="1343.8" y="703.5" width="21" height="21" fill="#ff0000" stroke="none"/>
<rect x="1383.5" y="648.0" width="21" height="21" fill="#ff0000" stroke="none"/>
<rect x="1431.3" y="587.3" width="21" height="21" fill="#ff0000" stroke="none"/>
<rect x="1476.7" y="520.1" width="21" height="21" fill="#ff0000" stroke="none"/>
<rect x="1506.5" y="471.5" width="21" height="21" fill="#ff0000" stroke="none"/>
<path d="M195.0,610.0 L237.5,554.5 L288.5,496.0 L330.0,434.0 L376.5,373.5 L421.6,314.2 L468.1,266.0 L512.5,229.0 L558.3,216.0 L601.0,230.5 L646.5,255.5 L692.9,293.0 L740.0,331.0 L785.0,374.0 L831.0,421.0 L874.0,470.9 L918.5,519.5 L965.5,569.5 L1012.0,619.5 L1056.8,664.0 L1102.5,711.5 L1147.0,750.0 L1193.5,781.0 L1236.5,799.5 L1283.2,798.5 L1332.5,777.5 L1374.8,749.5 L1421.5,715.5 L1467.0,675.0 L1511.0,624.0" stroke="#0000ff" stroke-width="6.2"/>
<path d="M195.0,594.0 L208.5,619.0 L181.5,619.0Z" fill="#0000ff" stroke="none"/>
<path d="M237.5,538.5 L251.0,563.5 L224.0,563.5Z" fill="#0000ff" stroke="none"/>
<path d="M288.5,480.0 L302.0,505.0 L275.0,505.0Z" fill="#0000ff" stroke="none"/>
<path d="M330.0,418.0 L343.5,443.0 L316.5,443.0Z" fill="#0000ff" stroke="none"/>
<path d="M376.5,357.5 L390.0,382.5 L363.0,382.5Z" fill="#0000ff" stroke="none"/>
<path d="M421.6,298.2 L435.1,323.2 L408.1,323.2Z" fill="#0000ff" stroke="none"/>
<path d="M468.1,250.0 L481.6,275.0 L454.6,275.0Z" fill="#0000ff" stroke="none"/>
<path d="M512.5,213.0 L526.0,238.0 L499.0,238.0Z" fill="#0000ff" stroke="none"/>
<path d="M558.3,200.0 L571.8,225.0 L544.8,225.0Z" fill="#0000ff" stroke="none"/>
<path d="M601.0,214.5 L614.5,239.5 L587.5,239.5Z" fill="#0000ff" stroke="none"/>
<path d="M646.5,239.5 L660.0,264.5 L633.0,264.5Z" fill="#0000ff" stroke="none"/>
<path d="M692.9,277.0 L706.4,302.0 L679.4,302.0Z" fill="#0000ff" stroke="none"/>
<path d="M740.0,315.0 L753.5,340.0 L726.5,340.0Z" fill="#0000ff" stroke="none"/>
<path d="M785.0,358.0 L798.5,383.0 L771.5,383.0Z" fill="#0000ff" stroke="none"/>
<path d="M831.0,405.0 L844.5,430.0 L817.5,430.0Z" fill="#0000ff" stroke="none"/>
<path d="M874.0,454.9 L887.5,479.9 L860.5,479.9Z" fill="#0000ff" stroke="none"/>
<path d="M918.5,503.5 L932.0,528.5 L905.0,528.5Z" fill="#0000ff" stroke="none"/>
<path d="M965.5,553.5 L979.0,578.5 L952.0,578.5Z" fill="#0000ff" stroke="none"/>
<path d="M1012.0,603.5 L1025.5,628.5 L998.5,628.5Z" fill="#0000ff" stroke="none"/>
<path d="M1056.8,648.0 L1070.3,673.0 L1043.3,673.0Z" fill="#0000ff" stroke="none"/>
<path d="M1102.5,695.5 L1116.0,720.5 L1089.0,720.5Z" fill="#0000ff" stroke="none"/>
<path d="M1147.0,734.0 L1160.5,759.0 L1133.5,759.0Z" fill="#0000ff" stroke="none"/>
<path d="M1193.5,765.0 L1207.0,790.0 L1180.0,790.0Z" fill="#0000ff" stroke="none"/>
<path d="M1236.5,783.5 L1250.0,808.5 L1223.0,808.5Z" fill="#0000ff" stroke="none"/>
<path d="M1283.2,782.5 L1296.7,807.5 L1269.7,807.5Z" fill="#0000ff" stroke="none"/>
<path d="M1332.5,761.5 L1346.0,786.5 L1319.0,786.5Z" fill="#0000ff" stroke="none"/>
<path d="M1374.8,733.5 L1388.3,758.5 L1361.3,758.5Z" fill="#0000ff" stroke="none"/>
<path d="M1421.5,699.5 L1435.0,724.5 L1408.0,724.5Z" fill="#0000ff" stroke="none"/>
<path d="M1467.0,659.0 L1480.5,684.0 L1453.5,684.0Z" fill="#0000ff" stroke="none"/>
<path d="M1511.0,608.0 L1524.5,633.0 L1497.5,633.0Z" fill="#0000ff" stroke="none"/>
<path d="M191.3,352.8 L193.2,349.1 L195.0,345.4 L196.8,341.8 L198.7,338.1 L200.5,334.5 L202.4,330.9 L204.2,327.3 L206.0,323.7 L207.9,320.2 L209.7,316.6 L211.6,313.1 L213.4,309.6 L215.2,306.2 L217.1,302.7 L218.9,299.3 L220.7,295.9 L222.6,292.6 L224.4,289.2 L226.3,285.9 L228.1,282.6 L229.9,279.4 L231.8,276.1 L233.6,272.9 L235.5,269.7 L237.3,266.5 L239.1,263.4 L241.0,260.3 L242.8,257.2 L244.7,254.2 L246.5,251.2 L248.3,248.2 L250.2,245.2 L252.0,242.3 L253.9,239.4 L255.7,236.5 L257.5,233.7 L259.4,230.9 L261.2,228.1 L263.0,225.4 L264.9,222.7 L266.7,220.0 L268.6,217.3 L270.4,214.7 L272.2,212.2 L274.1,209.6 L275.9,207.1 L277.8,204.7 L279.6,202.3 L281.4,199.9 L283.3,197.5 L285.1,195.2 L287.0,192.9 L288.8,190.6 L290.6,188.4 L292.5,186.3 L294.3,184.1 L296.2,182.0 L298.0,180.0 L299.8,177.9 L301.7,175.9 L303.5,174.0 L305.4,172.1 L307.2,170.2 L309.0,168.4 L310.9,166.6 L312.7,164.8 L314.5,163.1 L316.4,161.4 L318.2,159.7 L320.1,158.1 L321.9,156.5 L323.7,155.0 L325.6,153.5 L327.4,152.0 L329.3,150.6 L331.1,149.2 L332.9,147.8 L334.8,146.5 L336.6,145.2 L338.5,143.9 L340.3,142.7 L342.1,141.5 L344.0,140.3 L345.8,139.2 L347.7,138.1 L349.5,137.1 L351.3,136.0 L353.2,135.0 L355.0,134.1 L356.8,133.2 L358.7,132.3 L360.5,131.4 L362.4,130.6 L364.2,129.8 L366.0,129.0 L367.9,128.3 L369.7,127.5 L371.6,126.9 L373.4,126.2 L375.2,125.6 L377.1,125.0 L378.9,124.4 L380.8,123.9 L382.6,123.4 L384.4,122.9 L386.3,122.5 L388.1,122.0 L390.0,121.6 L391.8,121.3 L393.6,120.9 L395.5,120.6 L397.3,120.3 L399.1,120.0 L401.0,119.8 L402.8,119.6 L404.7,119.4 L406.5,119.2 L408.3,119.1 L410.2,119.0 L412.0,118.9 L413.9,118.8 L415.7,118.8 L417.5,118.7 L419.4,118.7 L421.2,118.8 L423.1,118.8 L424.9,118.9 L426.7,119.0 L428.6,119.1 L430.4,119.3 L432.3,119.5 L434.1,119.6 L435.9,119.9 L437.8,120.1 L439.6,120.4 L441.4,120.7 L443.3,121.0 L445.1,121.3 L447.0,121.7 L448.8,122.1 L450.6,122.5 L452.5,122.9 L454.3,123.3 L456.2,123.8 L458.0,124.3 L459.8,124.8 L461.7,125.4 L463.5,125.9 L465.4,126.5 L467.2,127.1 L469.0,127.8 L470.9,128.4 L472.7,129.1 L474.6,129.8 L476.4,130.5 L478.2,131.2 L480.1,132.0 L481.9,132.8 L483.7,133.6 L485.6,134.4 L487.4,135.2 L489.3,136.1 L491.1,137.0 L492.9,137.9 L494.8,138.8 L496.6,139.7 L498.5,140.6 L500.3,141.6 L502.1,142.6 L504.0,143.6 L505.8,144.6 L507.7,145.6 L509.5,146.7 L511.3,147.7 L513.2,148.8 L515.0,149.9 L516.9,151.0 L518.7,152.1 L520.5,153.2 L522.4,154.3 L524.2,155.5 L526.0,156.6 L527.9,157.8 L529.7,158.9 L531.6,160.1 L533.4,161.3 L535.2,162.5 L537.1,163.7 L538.9,164.9 L540.8,166.1 L542.6,167.3 L544.4,168.5 L546.3,169.7 L548.1,170.9 L550.0,172.1 L551.8,173.3 L553.6,174.6 L555.5,175.8 L557.3,177.0 L559.2,178.2 L561.0,179.5 L562.8,180.7 L564.7,181.9 L566.5,183.2 L568.4,184.4 L570.2,185.6 L572.0,186.8 L573.9,188.1 L575.7,189.3 L577.5,190.5 L579.4,191.7 L581.2,193.0 L583.1,194.2 L584.9,195.4 L586.7,196.7 L588.6,197.9 L590.4,199.2 L592.3,200.4 L594.1,201.7 L595.9,202.9 L597.8,204.2 L599.6,205.4 L601.5,206.7 L603.3,208.0 L605.1,209.3 L607.0,210.6 L608.8,211.9 L610.7,213.3 L612.5,214.6 L614.3,216.0 L616.2,217.3 L618.0,218.7 L619.8,220.2 L621.7,221.6 L623.5,223.1 L625.4,224.5 L627.2,226.1 L629.0,227.6 L630.9,229.2 L632.7,230.8 L634.6,232.4 L636.4,234.1 L638.2,235.7 L640.1,237.5 L641.9,239.2 L643.8,241.1 L645.6,242.9 L647.4,244.8 L649.3,246.7 L651.1,248.7 L653.0,250.7 L654.8,252.8 L656.6,254.9 L658.5,257.1 L660.3,259.3 L662.1,261.6 L664.0,263.9 L665.8,266.3 L667.7,268.8 L669.5,271.2 L671.3,273.8 L673.2,276.4 L675.0,279.1 L676.9,281.8 L678.7,284.6 L680.5,287.4 L682.4,290.3 L684.2,293.3 L686.1,296.3 L687.9,299.4 L689.7,302.6 L691.6,305.8 L693.4,309.1 L695.3,312.4 L697.1,315.8 L698.9,319.3 L700.8,322.8 L702.6,326.3 L704.4,330.0 L706.3,333.7 L708.1,337.4 L710.0,341.2 L711.8,345.0 L713.6,349.0 L715.5,352.9 L717.3,356.9 L719.2,361.0 L721.0,365.1 L722.8,369.2 L724.7,373.4 L726.5,377.7 L728.4,382.0 L730.2,386.3 L732.0,390.7 L733.9,395.1 L735.7,399.5 L737.6,404.0 L739.4,408.5 L741.2,413.0 L743.1,417.6 L744.9,422.2 L746.8,426.8 L748.6,431.4 L750.4,436.1 L752.3,440.8 L754.1,445.5 L755.9,450.2 L757.8,454.9 L759.6,459.6 L761.5,464.4 L763.3,469.2 L765.1,473.9 L767.0,478.7 L768.8,483.5 L770.7,488.3 L772.5,493.0 L774.3,497.8 L776.2,502.6 L778.0,507.4 L779.9,512.1 L781.7,516.9 L783.5,521.7 L785.4,526.4 L787.2,531.2 L789.1,535.9 L790.9,540.6 L792.7,545.4 L794.6,550.1 L796.4,554.8 L798.2,559.4 L800.1,564.1 L801.9,568.8 L803.8,573.4 L805.6,578.0 L807.4,582.6 L809.3,587.2 L811.1,591.8 L813.0,596.3 L814.8,600.9 L816.6,605.4 L818.5,609.9 L820.3,614.4 L822.2,618.8 L824.0,623.3 L825.8,627.7 L827.7,632.2 L829.5,636.6 L831.4,640.9 L833.2,645.3 L835.0,649.7 L836.9,654.0 L838.7,658.3 L840.5,662.6 L842.4,666.9 L844.2,671.2 L846.1,675.4 L847.9,679.6 L849.7,683.9 L851.6,688.1 L853.4,692.3 L855.3,696.4 L857.1,700.6 L858.9,704.7 L860.8,708.8 L862.6,712.9 L864.5,717.0 L866.3,721.1 L868.1,725.1 L870.0,729.2 L871.8,733.2 L873.7,737.2 L875.5,741.1 L877.3,745.1 L879.2,749.0 L881.0,753.0 L882.8,756.9 L884.7,760.7 L886.5,764.6 L888.4,768.4 L890.2,772.2 L892.0,776.0 L893.9,779.7 L895.7,783.5 L897.6,787.2 L899.4,790.8 L901.2,794.5 L903.1,798.1 L904.9,801.7 L906.8,805.2 L908.6,808.7 L910.4,812.2 L912.3,815.7 L914.1,819.1 L916.0,822.4 L917.8,825.8 L919.6,829.1 L921.5,832.3 L923.3,835.6 L925.1,838.7 L927.0,841.9 L928.8,845.0 L930.7,848.0 L932.5,851.0 L934.3,854.0 L936.2,856.9 L938.0,859.7 L939.9,862.6 L941.7,865.3 L943.5,868.0 L945.4,870.7 L947.2,873.3 L949.1,875.9 L950.9,878.4 L952.7,880.9 L954.6,883.3 L956.4,885.6 L958.3,887.9 L960.1,890.2 L961.9,892.4 L963.8,894.6 L965.6,896.7 L967.4,898.7 L969.3,900.7 L971.1,902.7 L973.0,904.6 L974.8,906.4 L976.6,908.2 L978.5,909.9 L980.3,911.6 L982.2,913.3 L984.0,914.9 L985.8,916.4 L987.7,917.9 L989.5,919.4 L991.4,920.8 L993.2,922.2 L995.0,923.5 L996.9,924.8 L998.7,926.0 L1000.6,927.2 L1002.4,928.4 L1004.2,929.5 L1006.1,930.5 L1007.9,931.6 L1009.8,932.6 L1011.6,933.5 L1013.4,934.5 L1015.3,935.4 L1017.1,936.2 L1018.9,937.0 L1020.8,937.8 L1022.6,938.6 L1024.5,939.3 L1026.3,940.0 L1028.1,940.6 L1030.0,941.3 L1031.8,941.9 L1033.7,942.4 L1035.5,943.0 L1037.3,943.5 L1039.2,944.0 L1041.0,944.4 L1042.9,944.9 L1044.7,945.3 L1046.5,945.7 L1048.4,946.0 L1050.2,946.3 L1052.1,946.6 L1053.9,946.9 L1055.7,947.1 L1057.6,947.3 L1059.4,947.5 L1061.2,947.7 L1063.1,947.8 L1064.9,947.9 L1066.8,948.0 L1068.6,948.0 L1070.4,948.0 L1072.3,948.0 L1074.1,948.0 L1076.0,947.9 L1077.8,947.8 L1079.6,947.7 L1081.5,947.5 L1083.3,947.3 L1085.2,947.1 L1087.0,946.8 L1088.8,946.5 L1090.7,946.2 L1092.5,945.8 L1094.4,945.4 L1096.2,944.9 L1098.0,944.5 L1099.9,944.0 L1101.7,943.4 L1103.5,942.8 L1105.4,942.2 L1107.2,941.5 L1109.1,940.9 L1110.9,940.1 L1112.7,939.4 L1114.6,938.5 L1116.4,937.7 L1118.3,936.8 L1120.1,935.9 L1121.9,935.0 L1123.8,934.0 L1125.6,932.9 L1127.5,931.9 L1129.3,930.8 L1131.1,929.7 L1133.0,928.5 L1134.8,927.3 L1136.7,926.1 L1138.5,924.8 L1140.3,923.5 L1142.2,922.2 L1144.0,920.9 L1145.8,919.5 L1147.7,918.1 L1149.5,916.7 L1151.4,915.2 L1153.2,913.7 L1155.0,912.3 L1156.9,910.7 L1158.7,909.2 L1160.6,907.7 L1162.4,906.1 L1164.2,904.5 L1166.1,902.9 L1167.9,901.3 L1169.8,899.7 L1171.6,898.1 L1173.4,896.5 L1175.3,894.8 L1177.1,893.2 L1179.0,891.6 L1180.8,889.9 L1182.6,888.3 L1184.5,886.7 L1186.3,885.0 L1188.2,883.4 L1190.0,881.8 L1191.8,880.2 L1193.7,878.6 L1195.5,877.0 L1197.3,875.4 L1199.2,873.8 L1201.0,872.2 L1202.9,870.7 L1204.7,869.2 L1206.5,867.7 L1208.4,866.1 L1210.2,864.7 L1212.1,863.2 L1213.9,861.7 L1215.7,860.3 L1217.6,858.9 L1219.4,857.5 L1221.3,856.1 L1223.1,854.7 L1224.9,853.4 L1226.8,852.1 L1228.6,850.7 L1230.5,849.4 L1232.3,848.2 L1234.1,846.9 L1236.0,845.6 L1237.8,844.4 L1239.6,843.1 L1241.5,841.9 L1243.3,840.7 L1245.2,839.5 L1247.0,838.3 L1248.8,837.1 L1250.7,835.9 L1252.5,834.7 L1254.4,833.5 L1256.2,832.3 L1258.0,831.1 L1259.9,829.9 L1261.7,828.7 L1263.6,827.5 L1265.4,826.3 L1267.2,825.0 L1269.1,823.8 L1270.9,822.5 L1272.8,821.2 L1274.6,819.9 L1276.4,818.5 L1278.3,817.2 L1280.1,815.8 L1281.9,814.3 L1283.8,812.9 L1285.6,811.4 L1287.5,809.9 L1289.3,808.3 L1291.1,806.7 L1293.0,805.1 L1294.8,803.4 L1296.7,801.7 L1298.5,799.9 L1300.3,798.1 L1302.2,796.2 L1304.0,794.3 L1305.9,792.3 L1307.7,790.3 L1309.5,788.2 L1311.4,786.1 L1313.2,783.9 L1315.1,781.6 L1316.9,779.3 L1318.7,777.0 L1320.6,774.5 L1322.4,772.1 L1324.2,769.5 L1326.1,766.9 L1327.9,764.2 L1329.8,761.5 L1331.6,758.7 L1333.4,755.8 L1335.3,752.9 L1337.1,749.9 L1339.0,746.9 L1340.8,743.8 L1342.6,740.6 L1344.5,737.4 L1346.3,734.1 L1348.2,730.8 L1350.0,727.4 L1351.8,724.0 L1353.7,720.5 L1355.5,716.9 L1357.4,713.3 L1359.2,709.6 L1361.0,705.9 L1362.9,702.1 L1364.7,698.3 L1366.5,694.5 L1368.4,690.6 L1370.2,686.6 L1372.1,682.6 L1373.9,678.6 L1375.7,674.5 L1377.6,670.4 L1379.4,666.3 L1381.3,662.1 L1383.1,657.9 L1384.9,653.7 L1386.8,649.4 L1388.6,645.1 L1390.5,640.8 L1392.3,636.5 L1394.1,632.1 L1396.0,627.7 L1397.8,623.3 L1399.7,618.9 L1401.5,614.5 L1403.3,610.0 L1405.2,605.6 L1407.0,601.1 L1408.8,596.6 L1410.7,592.2 L1412.5,587.7 L1414.4,583.2 L1416.2,578.7 L1418.0,574.2 L1419.9,569.7 L1421.7,565.2 L1423.6,560.7 L1425.4,556.2 L1427.2,551.8 L1429.1,547.3 L1430.9,542.8 L1432.8,538.3 L1434.6,533.9 L1436.4,529.4 L1438.3,525.0 L1440.1,520.6 L1442.0,516.2 L1443.8,511.8 L1445.6,507.4 L1447.5,503.0 L1449.3,498.6 L1451.2,494.3 L1453.0,490.0 L1454.8,485.6 L1456.7,481.3 L1458.5,477.0 L1460.3,472.8 L1462.2,468.5 L1464.0,464.3 L1465.9,460.1 L1467.7,455.9 L1469.5,451.7 L1471.4,447.5 L1473.2,443.3 L1475.1,439.2 L1476.9,435.1 L1478.7,431.0 L1480.6,426.9 L1482.4,422.9 L1484.3,418.8 L1486.1,414.8 L1487.9,410.8 L1489.8,406.8 L1491.6,402.8 L1493.5,398.8 L1495.3,394.9 L1497.1,391.0 L1499.0,387.1 L1500.8,383.2 L1502.6,379.4 L1504.5,375.5 L1506.3,371.7 L1508.2,367.9 L1510.0,364.1 L1511.8,360.3 L1513.7,356.6 L1515.5,352.8 L1517.4,349.1 L1519.2,345.4" stroke="#ff0000" stroke-width="6.2" stroke-dasharray="29.80 40.25" stroke-linecap="round" stroke-dashoffset="63.28"/>
</g>
<g font-family="'Liberation Sans', Arial, sans-serif" font-size="43" fill="#000" text-anchor="end">
<text x="160.4" y="1019.8">-2.0</text>
<text x="160.4" y="897.5">-1.5</text>
<text x="160.4" y="775.3">-1.0</text>
<text x="160.4" y="653.0">-0.5</text>
<text x="160.4" y="530.8">0.0</text>
<text x="160.4" y="408.6">0.5</text>
<text x="160.4" y="286.3">1.0</text>
<text x="160.4" y="164.1">1.5</text>
<text x="160.4" y="41.8">2.0</text>
</g>
<g font-family="'Liberation Sans', Arial, sans-serif" font-size="43" fill="#000" text-anchor="middle">
<text x="195.0" y="1074.3">0</text>
<text x="415.7" y="1074.3">60</text>
<text x="636.4" y="1074.3">120</text>
<text x="857.1" y="1074.3">180</text>
<text x="1077.8" y="1074.3">240</text>
<text x="1298.5" y="1074.3">300</text>
<text x="1519.2" y="1074.3">360</text>
</g>
<text font-family="'Liberation Sans', Arial, sans-serif" font-size="52.5" fill="#000" x="682.7" y="1157.8">Angle (degree)</text>
<text font-family="'Liberation Sans', Arial, sans-serif" font-size="52.5" fill="#000" transform="translate(50.8,829.6) rotate(-90)">Dynamic Pressure (bar)</text>
<rect x="988.1" y="15" width="485.75" height="334.2" fill="#fff" stroke="none"/>
<rect x="990.6" y="17.5" width="480.7" height="329.2" fill="none" stroke="#d6d6d6" stroke-width="2.4"/>
<path d="M988.1,349.2 L988.1,15 L1473.85,15" fill="none" stroke="#828282" stroke-width="2.3"/>
<path d="M1473.85,15 L1473.85,349.2 L988.1,349.2" fill="none" stroke="#676767" stroke-width="2.3"/>
<g fill="none" stroke-width="6.2">
<path d="M1016.6,52.3 L1113.9,52.3" stroke="#0000ff" stroke-linecap="round"/>
<path d="M1016.6,117.4 L1113.9,117.4" stroke="#ff0000" stroke-linecap="round"/>
<path d="M1016.6,182.4 L1113.9,182.4" stroke="#ff0000" stroke-linecap="round"/>
<path d="M1016.6,247.4 L1113.9,247.4" stroke="#0000ff" stroke-linecap="round"/>
<path d="M1016.6,312.8 L1047.4,312.8 M1085.1,312.8 L1113.9,312.8" stroke="#ff0000" stroke-linecap="round"/>
</g>
<rect x="1054.8" y="171.9" width="21" height="21" fill="#ff0000"/>
<path d="M1065.2,231.4 L1078.8,256.4 L1051.8,256.4Z" fill="#0000ff"/>
<g font-family="'Liberation Sans', Arial, sans-serif" fill="#000">
<text x="1124.8" y="66.2" font-size="43">Specified-P</text>
<text x="1346.7" y="81.4" font-size="23">c</text>
<text x="1124.8" y="131.4" font-size="43">Our Prediction-P</text>
<text x="1444.6" y="146.6" font-size="23">w</text>
<text x="1124.8" y="196.6" font-size="43">Exp-P</text>
<text x="1243.9" y="211.8" font-size="23">w</text>
<text x="1124.8" y="261.8" font-size="43">Exp-P</text>
<text x="1243.9" y="277.0" font-size="23">c</text>
<text x="1124.8" y="327.0" font-size="43">REGEN-P</text>
<text x="1322.7" y="342.2" font-size="23">w</text>
</g>
</svg>
</body></html>
